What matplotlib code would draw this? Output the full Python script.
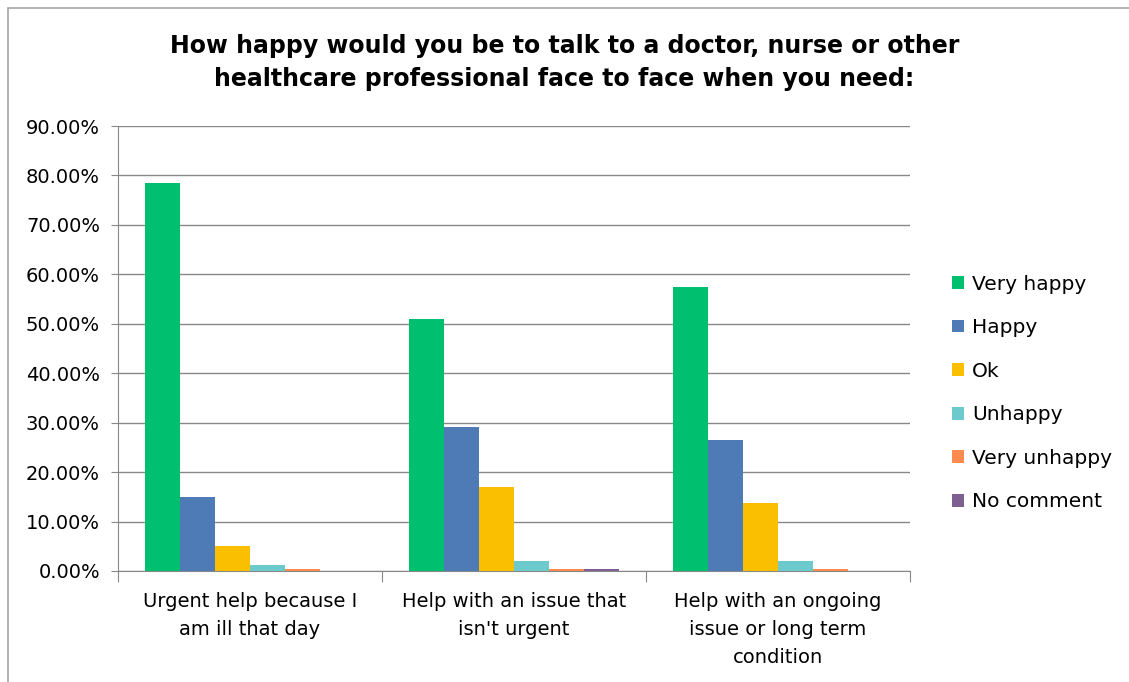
import numpy as np
import matplotlib.pyplot as plt
from matplotlib.patches import Rectangle

categories = ["Urgent help because I\nam ill that day",
              "Help with an issue that\nisn't urgent",
              "Help with an ongoing\nissue or long term\ncondition"]
series = ["Very happy", "Happy", "Ok", "Unhappy", "Very unhappy", "No comment"]
very_happy = [78.4, 51.0, 57.4]
happy = [15.0, 29.1, 26.5]
ok = [5.1, 17.0, 13.7]
unhappy = [1.2, 2.1, 2.1]
very_unhappy = [0.4, 0.4, 0.4]
no_comment = [0.0, 0.5, 0.0]
colors = ["#00BF6F", "#4E7AB5", "#F9BF00", "#6CC9CC", "#FF8A4F", "#7D5F92"]
title = ("How happy would you be to talk to a doctor, nurse or other\n"
         "healthcare professional face to face when you need:")

plt.rcParams['font.family'] = ['DejaVu Sans']

fig = plt.figure(figsize=(11.29, 6.82), dpi=100)
# chart border
fig.patches.append(Rectangle((8 / 1129, -0.1), 1.2, (682 - 8) / 682 + 0.1,
                             transform=fig.transFigure, fill=False,
                             edgecolor="#A6A6A6", linewidth=1.2))
ax = fig.add_axes([118 / 1129, 111 / 682, 792 / 1129, 445 / 682])

values = [very_happy, happy, ok, unhappy, very_unhappy, no_comment]
x = np.arange(len(categories))
w = 0.1326
for i, (name, vals) in enumerate(zip(series, values)):
    ax.bar(x + (i - 2.5) * w, vals, w, color=colors[i], label=name, zorder=3)

ax.set_xlim(-0.5, 2.5)
ax.set_ylim(0, 90)
ax.set_yticks(np.arange(0, 91, 10))
ax.set_yticklabels([f"{v:.2f}%" for v in np.arange(0, 91, 10)], fontsize=14)
ax.yaxis.grid(True, color="#888888", linewidth=1, zorder=0)
ax.tick_params(axis="y", length=5, color="#888888", pad=8)

ax.set_xticks([-0.5, 0.5, 1.5, 2.5])
ax.set_xticklabels([])
ax.set_xticks(x, minor=True)
ax.set_xticklabels(categories, minor=True, fontsize=14, linespacing=1.6)
ax.tick_params(axis="x", which="major", length=8, color="#888888")
ax.tick_params(axis="x", which="minor", length=0, pad=15)

for s in ["top", "right"]:
    ax.spines[s].set_visible(False)
ax.spines["left"].set_color("#888888")
ax.spines["bottom"].set_color("#888888")

fig.suptitle(title, fontsize=17, fontweight="bold", y=0.95, linespacing=1.45)

ax.legend(loc="center left", bbox_to_anchor=(1.03, 0.40), frameon=False,
          fontsize=14.5, handlelength=0.6, handleheight=0.6,
          handletextpad=0.4, labelspacing=1.22)

fig.savefig("out.png", dpi=100)
